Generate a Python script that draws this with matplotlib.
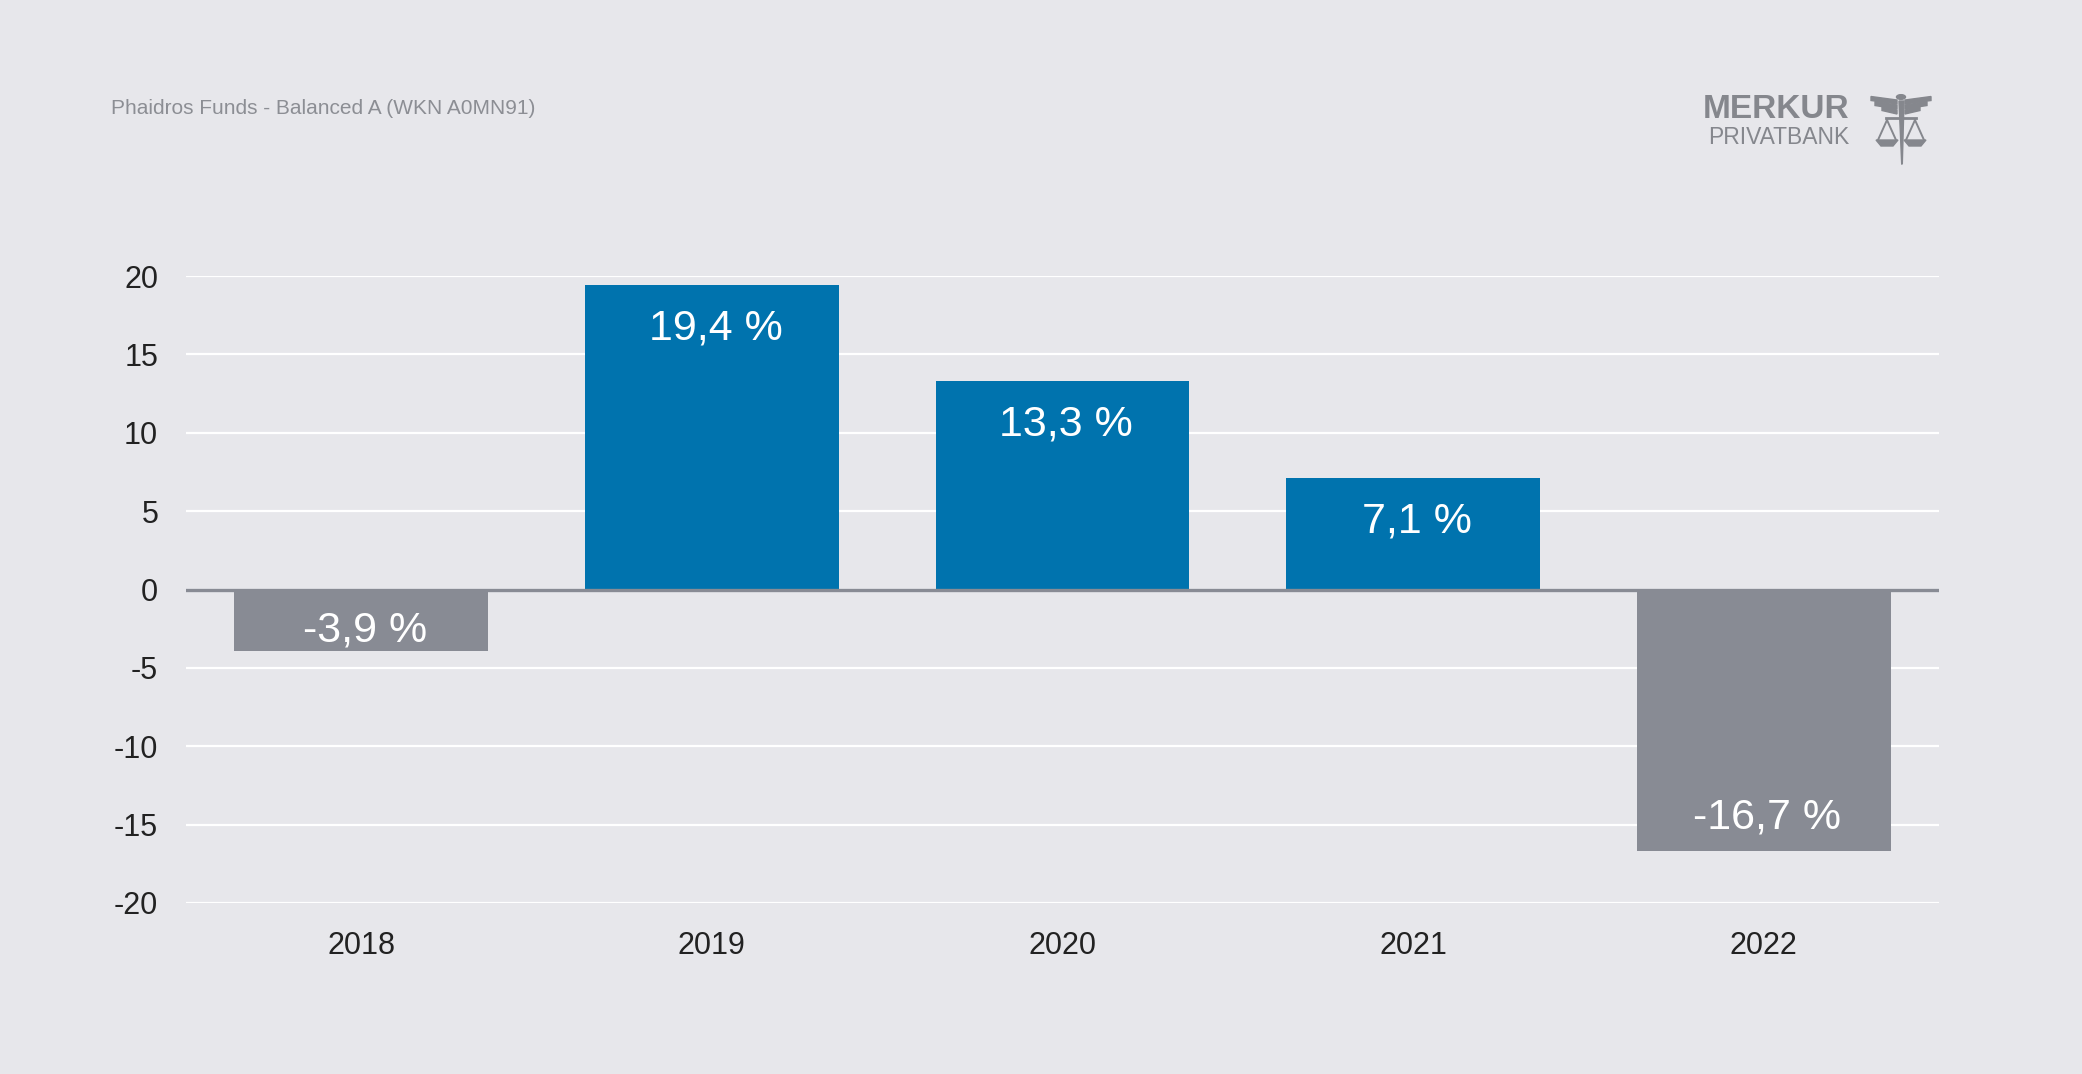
import matplotlib
matplotlib.use("Agg")
import matplotlib.pyplot as plt
from matplotlib.patches import Polygon, Circle
from matplotlib.lines import Line2D
import numpy as np

years = ["2018", "2019", "2020", "2021", "2022"]
returns = [-3.9, 19.4, 13.3, 7.1, -16.7]
labels = ["-3,9 %", "19,4 %", "13,3 %", "7,1 %", "-16,7 %"]
yticks = [-20, -15, -10, -5, 0, 5, 10, 15, 20]

BG = "#e7e7eb"
BLUE = "#0073ae"
GREY = "#888b94"
FONT = ["Liberation Sans", "DejaVu Sans"]

W, H = 2082, 1074
fig = plt.figure(figsize=(W / 100, H / 100), dpi=100, facecolor=BG)
ax = fig.add_axes([186 / W, 1 - 903 / H, (1939 - 186) / W, (903 - 276) / H])
ax.set_facecolor(BG)

x = np.arange(len(years))
colors = [BLUE if v >= 0 else GREY for v in returns]
ax.bar(x, returns, width=0.724, color=colors, zorder=2)
ax.axhline(0, color=GREY, lw=2.4, zorder=3)

# value labels inside the bars
for xi, v, lab in zip(x, returns, labels):
    if v >= 0:
        y = v - 2.75
    else:
        y = v + min(2.15, abs(v) * 0.33)
    ax.text(xi + 0.01, y, lab, ha="center", va="center",
            color="white", fontsize=31, family=FONT, zorder=4)

ax.set_xlim(-0.5, len(years) - 0.5)
ax.set_ylim(-20, 20)
ax.set_yticks(yticks)
ax.set_yticklabels([str(t) for t in yticks], family=FONT, fontsize=22, color="#222222")
ax.set_xticks(x)
ax.set_xticklabels(years, family=FONT, fontsize=22, color="#222222")
ax.tick_params(axis="y", length=0, pad=20)
ax.tick_params(axis="x", length=0, pad=20)
ax.grid(axis="y", color="white", lw=1.6, zorder=0)
ax.set_axisbelow(True)
for s in ax.spines.values():
    s.set_visible(False)

# header
fig.text(111 / W, 1 - 109 / H, "Phaidros Funds - Balanced A (WKN A0MN91)",
         family=FONT, fontsize=15, color="#8c8e94", va="center", ha="left")

# logo
lc = "#85878d"
fig.text(1849 / W, 1 - 110 / H, "MERKUR", fontsize=24, fontweight="bold",
         family="Liberation Sans", color=lc, ha="right", va="center")
fig.text(1849 / W, 1 - 137 / H, "PRIVATBANK", fontsize=16.5,
         family="Liberation Sans", color=lc, ha="right", va="center")


def fp(px, py):
    return (px / W, 1 - py / H)


tf = fig.transFigure
fig.add_artist(Circle(fp(1901, 97), 4.5 / W, transform=tf, color=lc))
fig.add_artist(Polygon([fp(1899, 101), fp(1904, 101), fp(1902.3, 164), fp(1901.7, 164)],
                       closed=True, transform=tf, color=lc))
for sgn in (-1, 1):
    # wing stripes
    for y0, outer in [(98, 30), (103, 26), (108, 19)]:
        fig.add_artist(Polygon([fp(1901 + sgn * 4, y0 + 2), fp(1901 + sgn * outer, y0 - 1.5),
                                fp(1901 + sgn * outer, y0 + 2.5), fp(1901 + sgn * 4, y0 + 6)],
                               closed=True, transform=tf, color=lc))
    # scale pan
    cx = 1901 + sgn * 14
    for dx in (-9, 9):
        fig.add_artist(Line2D([fp(cx, 120)[0], fp(cx + dx, 140)[0]],
                              [fp(cx, 120)[1], fp(cx + dx, 140)[1]],
                              transform=tf, color=lc, lw=1.4))
    fig.add_artist(Polygon([fp(cx - 11, 140), fp(cx + 11, 140), fp(cx + 6, 146), fp(cx - 6, 146)],
                           closed=True, transform=tf, color=lc))
# beam
fig.add_artist(Line2D([fp(1886, 118)[0], fp(1916, 118)[0]], [fp(0, 118)[1], fp(0, 118)[1]],
                      transform=tf, color=lc, lw=2))

fig.savefig("out.png", dpi=100, facecolor=BG)
